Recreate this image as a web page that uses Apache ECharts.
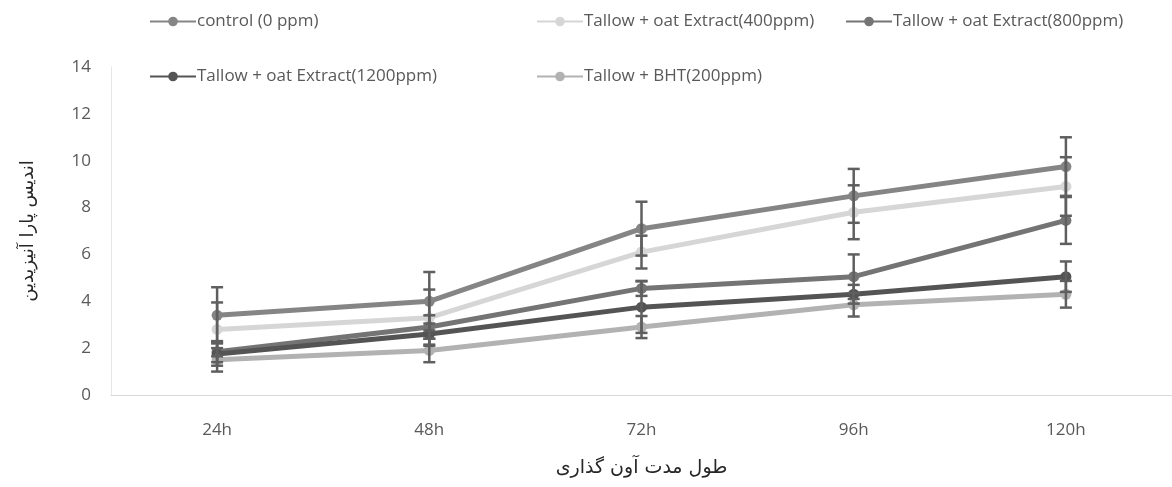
<!DOCTYPE html>
<html>
<head>
<meta charset="utf-8">
<script src="https://cdn.jsdelivr.net/npm/echarts@6/dist/echarts.min.js"></script>
<style>
html,body{margin:0;padding:0;background:#fff;}
#c{width:1172px;height:487px;}
</style>
</head>
<body>
<div id="c"></div>
<script>
var categories = ['24h', '48h', '72h', '96h', '120h'];
var seriesNames = ['control (0 ppm)', 'Tallow + oat Extract(400ppm)', 'Tallow + oat Extract(800ppm)', 'Tallow + oat Extract(1200ppm)', 'Tallow + BHT(200ppm)'];
var control = [3.4, 4.0, 7.1, 8.5, 9.75];
var oat400 = [2.8, 3.3, 6.1, 7.8, 8.9];
var oat800 = [1.85, 2.9, 4.55, 5.05, 7.45];
var oat1200 = [1.75, 2.6, 3.75, 4.3, 5.05];
var bht200 = [1.5, 1.9, 2.9, 3.85, 4.3];
var errControl = [1.2, 1.25, 1.15, 1.15, 1.25];
var err400 = [1.15, 1.2, 0.7, 1.15, 1.25];
var err800 = [0.45, 0.5, 0.32, 0.95, 1.0];
var err1200 = [0.5, 0.45, 1.1, 0.4, 0.65];
var errBht = [0.5, 0.5, 0.47, 0.5, 0.57];
var yTicks = [0, 2, 4, 6, 8, 10, 12, 14];
var yAxisTitle = 'اندیس پارا آنیزیدین';
var xAxisTitle = 'طول مدت آون گذاری';

var values = [control, oat400, oat800, oat1200, bht200];
var errors = [errControl, err400, err800, err1200, errBht];
var colors = ['#858585', '#d6d6d6', '#747474', '#545454', '#b2b2b2'];
var errColor = '#5f5f5f';

var chart = echarts.init(document.getElementById('c'));
var series = [];
values.forEach(function (vals, i) {
  series.push({
    name: seriesNames[i],
    type: 'line',
    data: vals,
    symbol: 'circle',
    symbolSize: 11,
    lineStyle: {width: 5, color: colors[i]},
    itemStyle: {color: colors[i]},
    z: 2 + i
  });
});
values.forEach(function (vals, i) {
  var d = vals.map(function (v, k) { return [k, v - errors[i][k], v + errors[i][k]]; });
  series.push({
    type: 'custom',
    name: 'err' + i,
    data: d,
    z: 20,
    silent: true,
    renderItem: function (params, api) {
      var x = api.value(0);
      var lo = api.coord([x, api.value(1)]);
      var hi = api.coord([x, api.value(2)]);
      var w = 6;
      var st = {stroke: errColor, lineWidth: 2.5};
      return {
        type: 'group',
        children: [
          {type: 'line', shape: {x1: lo[0], y1: lo[1], x2: hi[0], y2: hi[1]}, style: st},
          {type: 'line', shape: {x1: lo[0] - w, y1: lo[1], x2: lo[0] + w, y2: lo[1]}, style: st},
          {type: 'line', shape: {x1: hi[0] - w, y1: hi[1], x2: hi[0] + w, y2: hi[1]}, style: st}
        ]
      };
    }
  });
});

var legendPos = [[144, 8], [531, 8], [840, 8], [144, 63], [531, 63]];
var legends = seriesNames.map(function (n, i) {
  return {
    data: [n],
    left: legendPos[i][0],
    top: legendPos[i][1],
    itemWidth: 46,
    itemHeight: 12,
    itemGap: 4,
    textStyle: {color: '#595959', fontSize: 17, fontFamily: 'Open Sans', padding: [0, 0, 0, -4]}
  };
});

chart.setOption({
  animation: false,
  backgroundColor: '#ffffff',
  legend: legends,
  grid: {left: 111, right: -7, top: 67, bottom: 92, containLabel: false},
  xAxis: {
    type: 'category',
    data: categories,
    boundaryGap: true,
    axisLine: {lineStyle: {color: '#d9d9d9', width: 1}},
    axisTick: {show: false},
    axisLabel: {color: '#595959', fontSize: 17, fontFamily: 'Open Sans', margin: 27},
    name: xAxisTitle,
    nameLocation: 'middle',
    nameGap: 64,
    nameTextStyle: {color: '#262626', fontSize: 19, fontFamily: 'DejaVu Sans'}
  },
  yAxis: {
    type: 'value',
    min: yTicks[0],
    max: yTicks[yTicks.length - 1],
    interval: 2,
    axisLine: {show: true, lineStyle: {color: '#e6e6e6', width: 1}},
    axisTick: {show: false},
    splitLine: {show: false},
    axisLabel: {color: '#595959', fontSize: 17, fontFamily: 'Open Sans', margin: 20},
    name: yAxisTitle,
    nameLocation: 'middle',
    nameRotate: 90,
    nameGap: 74,
    nameTextStyle: {color: '#262626', fontSize: 18, fontFamily: 'DejaVu Sans'}
  },
  series: series
});
</script>
</body>
</html>
